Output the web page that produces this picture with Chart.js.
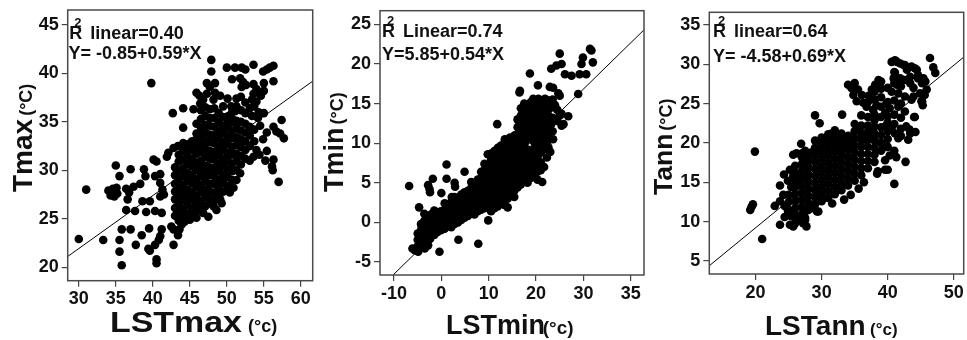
<!DOCTYPE html>
<html>
<head>
<meta charset="utf-8">
<script src="https://cdn.jsdelivr.net/npm/chart.js@4.4.1/dist/chart.umd.min.js"></script>
<style>
  html, body { margin: 0; background: #fff; overflow: hidden; width: 967px; height: 340px; }
  .panel { position: absolute; top: 0; }
</style>
</head>
<body>
<canvas id="cMax" class="panel" width="320" height="340" style="left:0"></canvas>
<canvas id="cMin" class="panel" width="335" height="340" style="left:315px"></canvas>
<canvas id="cAnn" class="panel" width="320" height="340" style="left:648px"></canvas>
<script>
// ---- data: [LST, air temperature] ----
const maxPoints = [
  [30.0,22.9],[31.0,28.0],[33.3,22.8],[35.0,30.5],[34.0,27.9],[34.3,27.4],[34.6,28.1],[34.8,27.3],[35.2,27.6],[35.1,28.2],
  [35.5,29.4],[35.8,23.9],[35.5,22.8],[35.5,21.6],[35.8,20.2],[37.0,23.9],[37.0,30.1],[36.4,28.1],[36.8,27.7],[36.6,27.0],
  [37.4,28.3],[38.3,28.6],[36.4,25.9],[37.6,25.8],[37.7,22.3],[38.5,23.3],[38.6,26.8],[39.6,26.8],[39.0,29.4],[38.8,30.1],
  [39.1,25.7],[40.3,25.8],[39.4,21.9],[39.6,21.7],[39.5,24.0],[40.5,20.8],[40.5,20.4],[40.3,22.3],[40.1,31.1],[40.5,30.9],
  [40.3,29.4],[41.0,29.6],[41.0,28.7],[41.3,28.0],[41.0,27.3],[41.5,27.5],[41.2,25.6],[41.2,23.9],[41.0,23.2],[40.8,22.8],
  [42.1,31.8],[41.9,31.4],[42.8,32.3],[43.4,32.5],[42.8,22.3],[42.5,24.2],[42.8,23.9],[43.4,23.3],[43.6,23.9],[43.9,24.4],
  [44.1,32.8],[44.8,32.7],[45.5,32.3],[45.9,33.2],[46.6,33.5],[47.3,33.0],[42.7,35.9],[44.1,36.4],[44.1,34.4],[39.8,39.0],
  [47.9,41.4],[47.9,40.2],[47.3,39.0],[48.4,39.0],[50.0,40.6],[51.1,40.6],[52.0,40.6],[52.5,40.4],[50.7,39.4],[51.8,39.5],
  [52.2,39.1],[52.6,38.8],[52.0,38.6],[53.6,40.9],[54.9,40.2],[55.4,40.4],[55.8,40.6],[56.3,40.8],[56.3,39.2],[53.6,38.9],
  [54.0,38.4],[53.6,37.9],[54.6,37.7],[53.4,37.3],[54.0,37.1],[45.9,38.0],[46.3,37.7],[46.8,37.3],[47.3,37.9],[48.2,37.3],
  [48.4,38.0],[45.5,36.3],[46.4,36.9],[49.1,37.7],[49.5,36.6],[50.6,36.6],[51.1,36.1],[50.2,35.6],[50.9,35.2],[52.5,35.9],
  [53.4,35.6],[54.2,35.4],[57.4,35.2],[56.3,34.5],[56.7,34.0],[57.7,33.3],[57.2,33.8],[56.1,30.4],[56.3,31.1],[56.2,30.0],
  [57.0,28.8],[55.2,31.0],[54.4,31.6],[54.9,33.2],[55.4,33.9],[54.5,34.6],[55.4,32.0],[54.0,32.1],[53.6,31.4],[53.1,32.5],
  [50.4,27.7],[50.9,28.2],[51.3,29.0],[51.8,29.7],[49.3,26.6],[49.1,27.0],[48.2,26.3],[47.7,26.6],[48.6,25.9],[46.8,25.6],
  [47.5,25.2],[45.9,25.1],[45.0,24.9],[44.3,24.7],
  [43.0,25.3],[43.0,26.1],[43.0,27.0],[43.0,27.8],[43.0,28.6],[43.0,29.5],[43.0,30.3],
  [43.5,24.8],[43.5,25.7],[43.5,26.5],[43.5,27.4],[43.5,28.2],[43.5,29.1],[43.5,30.0],[43.5,30.9],[43.5,31.6],
  [44.1,25.2],[44.1,26.0],[44.1,26.9],[44.1,27.7],[44.1,28.5],[44.1,29.4],[44.1,30.2],[44.1,31.1],[44.1,32.0],
  [44.7,25.5],[44.7,26.4],[44.7,27.2],[44.7,28.0],[44.7,28.9],[44.7,29.7],[44.7,30.6],[44.7,31.4],[44.7,32.2],
  [45.3,25.3],[45.3,26.1],[45.3,27.0],[45.3,27.8],[45.3,28.7],[45.3,29.5],[45.3,30.4],[45.3,31.2],[45.3,32.1],[45.3,33.0],
  [45.9,25.8],[45.9,26.6],[45.9,27.4],[45.9,28.3],[45.9,29.1],[45.9,30.0],[45.9,30.8],[45.9,31.7],[45.9,32.5],[45.9,33.8],[45.9,34.8],
  [46.5,26.0],[46.5,26.8],[46.5,27.7],[46.5,28.5],[46.5,29.4],[46.5,30.2],[46.5,31.0],[46.5,31.9],[46.5,32.7],[46.5,33.6],[46.5,34.4],[46.5,35.3],[46.5,36.2],
  [47.1,26.3],[47.1,27.2],[47.1,28.0],[47.1,28.9],[47.1,29.7],[47.1,30.5],[47.1,31.4],[47.1,32.2],[47.1,33.9],[47.1,34.7],[47.1,35.6],[47.1,36.5],
  [47.7,27.0],[47.7,27.8],[47.7,28.6],[47.7,29.5],[47.7,30.3],[47.7,31.2],[47.7,32.0],[47.7,32.9],[47.7,33.7],[47.7,34.6],[47.7,35.4],[47.7,36.3],[47.7,38.6],
  [48.3,26.9],[48.3,27.7],[48.3,28.6],[48.3,29.4],[48.3,30.2],[48.3,31.1],[48.3,31.9],[48.3,32.8],[48.3,33.6],[48.3,34.5],[48.3,35.4],[48.3,36.4],
  [48.9,27.4],[48.9,28.2],[48.9,29.0],[48.9,29.9],[48.9,30.7],[48.9,31.6],[48.9,32.4],[48.9,33.3],[48.9,34.1],[48.9,35.0],[48.9,35.9],
  [49.5,27.8],[49.5,28.7],[49.5,29.5],[49.5,30.4],[49.5,31.2],[49.5,32.1],[49.5,32.9],[49.5,33.8],[49.5,34.6],[49.5,35.5],
  [50.1,28.4],[50.1,29.3],[50.1,30.1],[50.1,31.0],[50.1,31.8],[50.1,32.7],[50.1,33.5],[50.1,34.4],[50.1,35.2],[50.1,37.4],
  [50.7,29.0],[50.7,29.9],[50.7,30.7],[50.7,31.6],[50.7,32.4],[50.7,33.3],[50.7,34.1],[50.7,35.0],[50.7,36.0],
  [51.3,30.0],[51.3,30.9],[51.3,31.7],[51.3,32.6],[51.3,33.4],[51.3,34.3],[51.3,35.1],[51.3,36.6],[51.3,37.4],
  [51.9,30.6],[51.9,31.5],[51.9,32.4],[51.9,33.2],[51.9,34.1],[51.9,35.0],[51.9,36.2],[51.9,37.6],
  [52.5,31.2],[52.5,32.1],[52.5,33.0],[52.5,33.9],[52.5,34.8],[52.5,37.0],
  [53.1,31.0],[53.1,33.6],[53.1,34.5],[53.1,36.4],[53.7,33.0],[53.7,34.2],[53.7,36.6],
  [54.3,36.0],[54.3,38.0],[55.0,35.9],[55.0,38.2],[55.0,39.0]
];

const minPoints = [
  [-6.8,4.6],[-6.1,-3.3],[-5.6,-3.5],[-4.9,-3.7],[-4.7,1.9],[-3.6,1.1],[-4.2,-0.4],[-4.0,-1.0],[-3.5,-0.6],[-3.2,-2.3],
  [-2.8,-2.9],[-3.5,-3.3],[-2.8,4.7],[-2.4,3.8],[-2.5,4.2],[-1.8,5.5],[-1.7,0.7],[-1.4,0.3],[-2.1,-1.0],[-2.4,-2.1],
  [0.0,3.7],[-0.4,-3.7],[1.1,7.3],[1.1,5.5],[2.9,4.5],[2.8,5.0],[2.2,3.2],[2.9,2.8],[3.6,-2.2],[4.9,6.4],
  [7.8,-2.7],[9.9,0.25],[11.8,12.4],[16.6,16.6],[18.7,18.8],[20.4,17.3],
  [25.0,21.3],[23.2,19.4],[24.3,19.8],[25.4,20.0],[26.1,18.7],[27.5,18.5],[29.6,20.0],[29.9,20.8],[31.7,21.7],[32.0,20.2],
  [31.4,21.9],[29.2,18.7],[30.6,18.7],[28.9,16.2],[22.9,17.1],[23.6,17.0],[24.7,16.3],[25.0,16.0],[25.4,13.7],[25.8,12.4],
  [26.8,13.4],[25.0,13.5],[16.5,16.4],[19.4,15.6],[19.8,15.2],[21.9,15.6],[22.6,14.8],[23.3,14.5],[24.0,14.8],
  [18.0,14.5],[18.7,14.1],[17.6,13.7],[20.4,14.1],[21.1,13.6],[21.5,13.1],[22.1,13.3],[22.5,12.9],[23.2,12.4],[25.4,12.2],
  [16.2,12.9],[16.9,12.5],[17.6,12.1],[16.6,11.6],[17.3,11.2],[18.0,11.0],[18.3,12.9],[19.0,12.4],[19.7,11.8],
  [20.8,12.2],[21.5,11.5],[22.2,10.8],[13.4,10.5],[14.5,10.7],[15.5,11.0],[17.3,10.5],[17.7,10.1],[23.6,10.5],
  [22.0,10.1],[22.6,9.5],[23.0,8.9],[22.3,8.2],[21.3,5.1],[20.7,7.4],
  [17.0,10.0],[17.0,11.0],[17.0,12.0],[18.5,10.5],[18.5,11.5],[18.5,13.5],[18.5,14.5],
  [19.5,10.2],[19.5,12.2],[19.5,13.2],[19.5,14.0],[20.5,10.0],[20.5,11.0],[20.5,12.0],[20.5,13.0],[20.5,14.8],[20.5,15.6],
  [21.5,9.8],[21.5,11.8],[21.5,12.8],[21.5,13.8],[21.5,14.6],[22.5,11.2],[22.5,12.0],[22.5,13.6],[22.5,14.2],[22.5,15.4],
  [23.5,11.5],[23.5,13.2],[23.5,15.5],[24.5,12.8],[24.5,14.2],
  [-5.0,-3.0],[-5.0,-2.2],[-5.0,-1.4],
  [-4.3,-2.6],[-4.3,-1.8],[-4.3,-1.0],[-4.3,-0.2],
  [-3.6,-2.4],[-3.6,-1.5],[-3.6,-0.7],[-3.6,0.2],
  [-2.9,-1.9],[-2.9,-1.1],[-2.9,-0.3],[-2.9,0.6],
  [-2.2,-1.4],[-2.2,-0.6],[-2.2,0.2],[-2.2,1.0],
  [-1.5,-1.6],[-1.5,-0.8],[-1.5,0.0],[-1.5,0.8],[-1.5,1.5],
  [-0.8,-1.2],[-0.8,-0.4],[-0.8,0.4],[-0.8,1.2],
  [-0.1,-1.0],[-0.1,-0.2],[-0.1,0.6],[-0.1,1.4],
  [0.7,-0.8],[0.7,0.0],[0.7,0.8],[0.7,1.6],[0.7,2.4],
  [1.4,-0.4],[1.4,0.4],[1.4,1.2],[1.4,2.0],
  [2.1,-0.6],[2.1,0.2],[2.1,1.0],[2.1,1.8],[2.1,2.6],
  [2.8,-0.2],[2.8,0.6],[2.8,1.4],[2.8,2.2],[2.8,3.2],
  [3.5,0.0],[3.5,0.8],[3.5,1.6],[3.5,2.4],
  [4.2,0.3],[4.2,1.1],[4.2,1.9],[4.2,2.7],[4.2,3.5],
  [4.9,0.6],[4.9,1.4],[4.9,2.2],[4.9,3.0],[4.9,3.8],
  [5.6,0.8],[5.6,1.6],[5.6,2.4],[5.6,3.2],[5.6,4.0],
  [6.3,1.1],[6.3,1.9],[6.3,2.7],[6.3,3.5],[6.3,4.3],[6.3,5.1],
  [7.0,1.0],[7.0,1.8],[7.0,2.6],[7.0,3.4],[7.0,4.2],[7.0,5.0],
  [7.7,1.4],[7.7,2.2],[7.7,3.0],[7.7,3.8],[7.7,4.6],[7.7,5.4],
  [8.4,1.6],[8.4,2.4],[8.4,3.2],[8.4,4.0],[8.4,4.8],[8.4,5.6],[8.4,6.4],
  [9.1,1.8],[9.1,2.6],[9.1,3.4],[9.1,4.2],[9.1,5.0],[9.1,5.8],[9.1,6.6],[9.1,7.4],
  [9.8,2.0],[9.8,2.8],[9.8,3.6],[9.8,4.4],[9.8,5.2],[9.8,6.0],[9.8,6.8],[9.8,8.6],
  [10.5,1.4],[10.5,2.3],[10.5,3.1],[10.5,3.9],[10.5,4.7],[10.5,5.5],[10.5,6.3],[10.5,7.1],[10.5,7.9],[10.5,8.7],
  [11.2,1.8],[11.2,2.6],[11.2,3.4],[11.2,4.2],[11.2,5.0],[11.2,5.8],[11.2,6.6],[11.2,7.4],[11.2,8.2],[11.2,9.0],
  [11.9,2.0],[11.9,2.9],[11.9,3.7],[11.9,4.5],[11.9,5.3],[11.9,6.1],[11.9,6.9],[11.9,7.7],[11.9,8.5],[11.9,9.4],
  [12.6,2.4],[12.6,3.2],[12.6,4.0],[12.6,4.8],[12.6,5.6],[12.6,6.4],[12.6,7.2],[12.6,8.0],[12.6,8.8],[12.6,9.7],
  [13.3,2.2],[13.3,3.5],[13.3,4.3],[13.3,5.1],[13.3,5.9],[13.3,6.7],[13.3,7.5],[13.3,8.3],[13.3,9.1],[13.3,10.0],
  [14.0,1.9],[14.0,3.0],[14.0,3.8],[14.0,4.6],[14.0,5.4],[14.0,6.2],[14.0,7.0],[14.0,7.8],[14.0,8.6],[14.0,9.4],[14.0,10.2],
  [14.7,3.4],[14.7,4.2],[14.7,5.0],[14.7,5.8],[14.7,6.6],[14.7,7.4],[14.7,8.2],[14.7,9.0],[14.7,9.8],[14.7,10.6],
  [15.4,3.2],[15.4,4.0],[15.4,4.8],[15.4,5.6],[15.4,6.4],[15.4,7.2],[15.4,8.0],[15.4,8.8],[15.4,9.6],[15.4,10.4],
  [16.1,4.4],[16.1,5.2],[16.1,6.0],[16.1,6.8],[16.1,7.6],[16.1,8.4],[16.1,9.2],[16.1,10.0],[16.1,11.0],[16.1,12.0],[16.1,13.0],
  [16.8,4.8],[16.8,5.6],[16.8,6.4],[16.8,7.2],[16.8,8.0],[16.8,8.8],[16.8,9.6],[16.8,10.5],[16.8,11.6],[16.8,12.6],[16.8,13.5],[16.8,14.4],
  [17.5,5.2],[17.5,6.0],[17.5,6.8],[17.5,7.6],[17.5,8.6],[17.5,9.4],[17.5,11.2],[17.5,12.1],[17.5,13.0],[17.5,14.0],[17.5,15.0],
  [18.2,5.0],[18.2,5.8],[18.2,6.6],[18.2,7.4],[18.2,8.4],[18.2,9.2],[18.2,12.6],[18.2,13.4],[18.2,14.8],
  [18.9,5.6],[18.9,6.4],[18.9,7.2],[18.9,8.0],[18.9,9.0],[18.9,12.0],[18.9,13.8],[18.9,15.2],
  [19.6,6.0],[19.6,6.8],[19.6,7.6],[19.6,8.6],[19.6,9.4],[19.6,11.0],[19.6,13.0],[19.6,14.4],
  [20.3,5.4],[20.3,6.4],[20.3,7.4],[20.3,8.2],[20.3,9.2],[20.3,11.8],[20.3,13.5],
  [21.0,6.6],[21.0,7.6],[21.0,8.8],[21.0,12.6],[21.0,14.8],[21.7,7.0],[21.7,9.8],[21.7,10.6],[22.4,9.2],[22.4,10.2]
];

const annPoints = [
  [19.9,18.9],[19.4,11.9],[19.6,12.2],[19.2,11.5],[21.0,7.8],[22.9,12.0],[23.7,14.6],[24.3,16.0],[23.7,9.6],[24.4,10.6],
  [25.5,10.8],[25.7,9.4],[25.8,9.6],[26.9,19.9],[27.5,10.2],[27.7,9.4],[29.0,23.5],[29.7,22.5],[33.1,23.6],[33.4,12.8],
  [34.4,13.4],[31.6,12.3],[29.3,11.3],[39.6,17.8],[38.4,16.1],[40.0,16.6],[41.0,14.8],[42.7,17.6],[44.0,23.3],[44.2,21.4],
  [43.1,20.4],[43.4,21.2],[46.4,30.8],[46.9,29.6],[47.2,28.9],[45.2,27.6],[45.9,26.8],[45.6,26.1],[45.2,25.3],[45.3,24.8],
  [41.4,30.3],[41.9,30.1],[42.4,29.9],[42.9,29.3],[43.4,28.4],[44.4,29.3],[44.6,28.2],[40.9,28.2],[41.4,27.4],
  [34.0,27.4],[34.5,27.0],[35.0,27.6],[35.5,26.8],[36.1,26.1],[34.8,26.1],[35.3,25.3],[36.3,25.1],[37.1,26.0],[37.6,26.8],
  [38.1,27.4],[38.6,28.0],[36.8,24.6],[37.8,24.2],[38.3,24.8],[39.0,24.6],[39.8,25.0],[40.3,24.4],[39.6,23.8],[38.0,22.9],
  [39.0,23.3],[39.8,22.2],[40.6,30.3],[41.1,30.5],[42.6,29.9],[43.6,29.7],[44.1,29.5],[44.6,28.6],[45.4,28.2],[45.7,27.8],
  [41.1,28.9],[41.9,28.2],[42.6,28.0],[43.4,27.6],[43.9,27.0],[40.6,26.5],[41.6,26.3],[42.6,25.9],[43.6,25.5],[44.9,26.3],
  [45.1,25.3],[41.6,24.6],[42.6,24.0],[43.9,25.9],[44.1,23.3],[42.8,22.1],[43.3,21.7],[40.6,21.7],[41.1,21.2],[38.0,20.4],
  [39.0,20.0],[39.8,19.5],[41.6,20.6],[35.6,21.7],[36.1,20.8],[36.6,20.4],[37.1,21.7],[37.6,21.2],[31.5,21.2],[32.0,20.4],
  [32.5,19.9],[33.0,19.3],[33.5,19.9],[34.0,20.6],[34.5,19.6],[30.5,20.0],[31.0,19.1],
  [25.7,18.5],[26.2,18.7],[27.0,18.7],[27.5,19.0],[28.0,17.9],[28.5,18.8],[29.2,19.0],[25.2,16.6],[25.7,15.8],[24.9,15.2],
  [25.4,14.4],[26.2,14.8],[26.7,15.6],[24.2,13.4],[23.7,12.6],[24.4,12.0],[24.9,11.4],[25.4,10.7],[25.2,9.6],[26.0,9.8],
  [26.7,10.2],[27.2,9.8],[27.5,10.5],[27.5,11.3],[28.5,11.7],[29.5,11.3],[38.5,16.4],[39.6,16.6],[40.3,18.4],[41.0,19.0],
  [41.3,18.2],[35.6,14.2],[36.4,15.0],
  [25.0,11.5],[25.0,12.5],[25.0,13.4],
  [26.0,10.8],[26.0,11.7],[26.0,12.6],[26.0,13.5],[26.0,14.4],[26.0,15.3],[26.0,16.2],[26.0,17.1],
  [27.0,11.0],[27.0,11.9],[27.0,12.8],[27.0,13.7],[27.0,14.6],[27.0,15.5],[27.0,16.4],[27.0,17.3],[27.0,18.2],
  [28.0,11.5],[28.0,12.4],[28.0,13.3],[28.0,14.2],[28.0,15.1],[28.0,16.0],[28.0,16.9],[28.0,17.8],[28.0,18.7],
  [29.0,12.2],[29.0,13.1],[29.0,14.0],[29.0,14.9],[29.0,15.8],[29.0,16.7],[29.0,17.6],[29.0,18.5],[29.0,19.4],[29.0,20.3],
  [30.0,12.6],[30.0,13.5],[30.0,14.4],[30.0,15.3],[30.0,16.2],[30.0,17.1],[30.0,18.0],[30.0,18.9],[30.0,19.8],[30.0,20.7],
  [31.0,13.0],[31.0,13.9],[31.0,14.8],[31.0,15.7],[31.0,16.6],[31.0,17.5],[31.0,18.4],[31.0,19.3],[31.0,20.2],[31.0,21.1],
  [32.0,13.5],[32.0,14.4],[32.0,15.3],[32.0,16.2],[32.0,17.1],[32.0,18.0],[32.0,18.9],[32.0,19.8],[32.0,20.7],[32.0,21.6],
  [33.0,14.0],[33.0,14.9],[33.0,15.8],[33.0,16.7],[33.0,17.6],[33.0,18.5],[33.0,19.4],[33.0,20.3],[33.0,21.2],
  [34.0,14.6],[34.0,15.5],[34.0,16.4],[34.0,17.3],[34.0,18.2],[34.0,19.1],[34.0,20.0],[34.0,20.9],
  [35.0,15.2],[35.0,16.1],[35.0,17.0],[35.0,17.9],[35.0,18.8],[35.0,19.7],[35.0,20.6],[35.0,21.5],[35.0,22.4],
  [36.0,15.9],[36.0,16.8],[36.0,17.7],[36.0,18.6],[36.0,19.5],[36.0,20.4],[36.0,21.3],[36.0,22.2],[36.0,23.5],
  [37.0,16.8],[37.0,17.7],[37.0,18.6],[37.0,19.5],[37.0,20.4],[37.0,21.3],[37.0,22.2],[37.0,23.3],[37.0,25.2],
  [38.0,17.6],[38.0,18.5],[38.0,19.4],[38.0,20.3],[38.0,21.2],[38.0,22.1],[38.0,23.6],[38.0,25.5],[38.0,26.5],
  [39.0,19.0],[39.0,20.0],[39.0,21.0],[39.0,22.0],[39.0,25.8],[39.0,26.9],[39.0,27.8],
  [40.0,19.5],[40.0,20.5],[40.0,21.5],[40.0,22.6],[40.0,23.4],[40.0,25.2],[40.0,27.0],
  [41.0,22.4],[41.0,23.6],[41.0,25.4],[41.0,27.6],[41.0,29.0],[42.0,20.9],[42.0,21.8],[42.0,23.2],[42.0,25.0],[42.0,27.2]
];

// fitted lines as drawn (end points at the frame edges)
const maxFit = [[28.5, 21.1], [61.6, 39.2]];
const minFit = [[-10.2, -6.64], [42.8, 24.3]];
const annFit = [[13.0, 4.4], [51.5, 30.9]];

// tick values and labels
const maxXTicks = [30, 35, 40, 45, 50, 55, 60];
const maxYTicks = [20, 25, 30, 35, 40, 45];
const minXTicks = [-10, 0, 10, 20, 30, 40];
const minXLabels = ["-10", "0", "10", "20", "30", "35"];
const minYTicks = [-5, 0, 5, 10, 15, 20, 25];
const annXTicks = [20, 30, 40, 50];
const annYTicks = [5, 10, 15, 20, 25, 30, 35];

const FONT = '"Liberation Sans", Arial, sans-serif';
const INK = "#111";

function drawText(ctx, s, x, y, size, sx) {
  ctx.save();
  ctx.translate(x, y);
  ctx.scale(sx || 1, 1);
  ctx.font = "bold " + size + "px " + FONT;
  ctx.fillText(s, 0, 0);
  const w = ctx.measureText(s).width * (sx || 1);
  ctx.restore();
  return w;
}

// frame, R² note, equation and the two-size axis titles
const decoPlugin = {
  id: "deco",
  afterDatasetsDraw(chart, args, o) {
    const { ctx, chartArea: a } = chart;
    ctx.save();
    ctx.strokeStyle = "#4a4a4a";
    ctx.lineWidth = 1.5;
    ctx.strokeRect(a.left, a.top, a.right - a.left, a.bottom - a.top);
    ctx.fillStyle = INK;
    ctx.textBaseline = "alphabetic";
    drawText(ctx, "R", o.r2[0], o.r2[1], 18);
    drawText(ctx, "2", o.r2[0] + 5, o.r2[1] - 12, 13);
    drawText(ctx, o.rText, o.r2[0] + 21, o.r2[1], 18);
    drawText(ctx, o.eq, o.eqPos[0], o.eqPos[1], 18);
    // x title
    const xt = o.xTitle;
    drawText(ctx, xt.main, xt.x, xt.y, xt.size, xt.sx);
    drawText(ctx, "(°c)", xt.ux, xt.y, xt.usize);
    // y title, reading upwards
    const yt = o.yTitle;
    ctx.save();
    ctx.translate(yt.x, yt.y);
    ctx.rotate(-Math.PI / 2);
    const w = drawText(ctx, yt.main, 0, 0, yt.size);
    drawText(ctx, "(°C)", w + 3, 0, yt.usize);
    ctx.restore();
    ctx.restore();
  }
};

function makePanel(id, p) {
  const tickFont = { family: FONT, size: 18, weight: "bold" };
  const grid = { display: true, drawOnChartArea: false, drawTicks: true, tickLength: 6, color: "#444", lineWidth: 1.2 };
  new Chart(document.getElementById(id), {
    type: "scatter",
    data: {
      datasets: [
        {
          data: p.points.map(([x, y]) => ({ x, y })),
          backgroundColor: "#000",
          borderWidth: 0,
          pointRadius: 4.3,
          pointHoverRadius: 4.3
        },
        {
          type: "line",
          data: p.fit.map(([x, y]) => ({ x, y })),
          borderColor: "#000",
          borderWidth: 1,
          pointRadius: 0,
          fill: false
        }
      ]
    },
    options: {
      responsive: false,
      animation: false,
      devicePixelRatio: 1,
      layout: { padding: { top: p.top, right: p.right, left: 0, bottom: 0 } },
      plugins: { legend: { display: false }, tooltip: { enabled: false }, deco: p.deco },
      scales: {
        x: {
          type: "linear",
          min: p.xMin,
          max: p.xMax,
          afterBuildTicks: (s) => { s.ticks = p.xTicks.map((v) => ({ value: v })); },
          afterFit: (s) => { s.height = p.xAxisH; s.paddingLeft = 0; s.paddingRight = 0; },
          ticks: {
            font: tickFont, color: INK, padding: 2, maxRotation: 0, minRotation: 0, autoSkip: false,
            callback: (v, i) => (p.xLabels ? p.xLabels[i] : String(v))
          },
          grid: grid,
          border: { display: false }
        },
        y: {
          type: "linear",
          min: p.yMin,
          max: p.yMax,
          afterBuildTicks: (s) => { s.ticks = p.yTicks.map((v) => ({ value: v })); },
          afterFit: (s) => { s.width = p.yAxisW; s.paddingTop = 0; s.paddingBottom = 0; },
          ticks: { font: tickFont, color: INK, padding: 3, autoSkip: false, callback: (v) => String(v) },
          grid: grid,
          border: { display: false }
        }
      }
    },
    plugins: [decoPlugin]
  });
}

makePanel("cMax", {
  points: maxPoints, fit: maxFit,
  xMin: 28.5, xMax: 61.6, yMin: 18.6, yMax: 46.55,
  xTicks: maxXTicks, yTicks: maxYTicks,
  top: 10, right: 7.3, yAxisW: 67.7, xAxisH: 59.3,
  deco: {
    r2: [69.3, 39.3], rText: "linear=0.40",
    eqPos: [68.5, 59.3], eq: "Y= -0.85+0.59*X",
    xTitle: { main: "LSTmax", x: 110, y: 332, size: 29, sx: 1.17, ux: 248, usize: 18 },
    yTitle: { main: "Tmax", x: 32, y: 192, size: 28, usize: 18 }
  }
});

makePanel("cMin", {
  points: minPoints, fit: minFit,
  xMin: -12.96, xMax: 42.8, yMin: -6.64, yMax: 26.72,
  xTicks: minXTicks, xLabels: minXLabels, yTicks: minYTicks,
  top: 10.7, right: 6, yAxisW: 65, xAxisH: 65,
  deco: {
    r2: [67, 36.7], rText: "Linear=0.74",
    eqPos: [67, 60], eq: "Y=5.85+0.54*X",
    xTitle: { main: "LSTmin", x: 131, y: 334, size: 27, sx: 1, ux: 227.7, usize: 19 },
    yTitle: { main: "Tmin", x: 28, y: 192, size: 27, usize: 18 }
  }
});

makePanel("cAnn", {
  points: annPoints, fit: annFit,
  xMin: 13.0, xMax: 51.5, yMin: 3.35, yMax: 36.6,
  xTicks: annXTicks, yTicks: annYTicks,
  top: 12.3, right: 3, yAxisW: 61.3, xAxisH: 66,
  deco: {
    r2: [65, 36.7], rText: "linear=0.64",
    eqPos: [65, 61.7], eq: "Y= -4.58+0.69*X",
    xTitle: { main: "LSTann", x: 117, y: 335, size: 28, sx: 1, ux: 222, usize: 17 },
    yTitle: { main: "Tann", x: 24, y: 195, size: 26.5, usize: 18 }
  }
});
</script>
</body>
</html>
